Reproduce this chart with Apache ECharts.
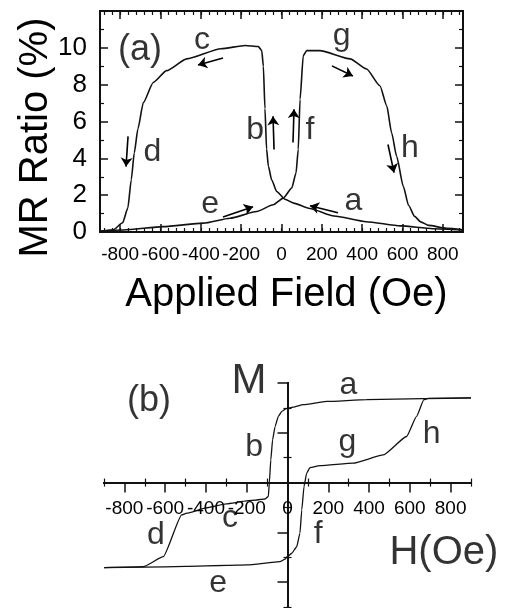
<!DOCTYPE html>
<html><head><meta charset="utf-8">
<script src="https://cdn.jsdelivr.net/npm/echarts@6/dist/echarts.min.js"></script>
<style>html,body{margin:0;padding:0;background:#fff}#c{width:511px;height:608px}</style>
</head><body><div id="c"></div>
<script>
const FONT = '"Liberation Sans", Arial, Helvetica, sans-serif';

// ---------- Panel (a): MR ratio vs applied field ----------
// branch a -> b -> c -> d (field sweeping down)
const fieldA1 = [900, 750, 590, 420, 260, 140, 60, 17, -24, -49, -65, -74, -82, -90, -98, -115, -180, -300, -470, -570, -636, -685, -712, -730, -745, -762, -788, -834, -900];
const mrA1    = [0.1, 0.18, 0.33, 0.56, 0.87, 1.28, 1.57, 1.78, 2.2, 2.84, 3.57, 4.5, 6.7, 9.0, 9.85, 10.07, 10.13, 9.95, 9.4, 8.76, 8.12, 7.03, 5.6, 4.3, 2.84, 1.3, 0.5, 0.12, 0.03];
// branch e -> f -> g -> h (field sweeping up)
const fieldA2 = [-900, -784, -586, -388, -255, -123, -41, 9, 51, 72, 83, 92, 108, 125, 190, 340, 422, 488, 522, 546, 571, 604, 630, 660, 690, 730, 819, 900];
const mrA2    = [0.05, 0.11, 0.29, 0.48, 0.75, 1.11, 1.48, 1.84, 2.39, 3.2, 4.48, 7.2, 9.58, 9.85, 9.85, 9.4, 8.85, 7.94, 6.85, 5.39, 4.11, 2.48, 1.45, 0.85, 0.55, 0.36, 0.2, 0.12];
// arrows (start field, start MR, end field, end MR)
const arrowA_h0 = [-290, -761, -37, 57, 250, 528, -290, 280];
const arrowA_m0 = [9.45, 5.19, 4.48, 4.86, 9.02, 4.75, 0.82, 1.04];
const arrowA_h1 = [-414, -771, -42, 62, 354, 558, -141, 141];
const arrowA_m1 = [9.07, 3.55, 6.28, 6.67, 8.47, 3.22, 1.37, 1.42];
// letters
const lettersA  = ['c', 'g', 'b', 'f', 'd', 'h', 'e', 'a'];
const letterAH  = [-394, 298, -131, 141, -640, 637, -354, 356];
const letterAM  = [10.44, 10.62, 5.52, 5.52, 4.36, 4.54, 1.5, 1.7];
const panelLabelA = ['(a)', -702, 9.87];
const xTickLabelsA = [-800, -600, -400, -200, 0, 200, 400, 600, 800];

// ---------- Panel (b): M vs H ----------
const fieldB1 = [900, 666, 388, 192, 77, 28, -7, -28, -45, -61, -73, -82, -89, -94, -110, -151, -200, -300, -400, -494, -519, -609, -707, -900];
const magB1   = [3.40, 3.37, 3.33, 3.26, 3.13, 3.03, 2.97, 2.86, 2.66, 2.25, 1.72, 0.91, 0, -0.56, -0.66, -0.7, -0.74, -0.86, -1.02, -1.23, -1.3, -2.98, -3.38, -3.42];
const fieldB2 = [-900, -700, -500, -300, -200, -37, -12, -1, 21, 45, 61, 70, 81, 94, 110, 159, 323, 470, 584, 633, 669, 690, 900];
const magB2   = [-3.42, -3.40, -3.37, -3.33, -3.31, -3.18, -3.08, -2.98, -2.84, -2.58, -2.04, -1.1, -0.16, 0.38, 0.6, 0.68, 0.78, 1.11, 1.85, 2.66, 3.33, 3.38, 3.40];
const lettersB = ['a', 'b', 'g', 'h', 'c', 'd', 'f', 'e'];
const letterBH = [299, -164, 294, 707, -282, -645, 150, -340];
const letterBM = [3.92, 1.42, 1.61, 1.96, -1.45, -2.13, -2.06, -4.03];
const panelLabelB = ['(b)', -679, 3.27];
const axisNameM = ['M', -189, 4.05];
const axisNameH = ['H(Oe)', 767, -2.82];
const xTickLabelsB = [-800, -600, -400, -200, 0, 200, 400, 600, 800];
const xMinorTicksB = [-900, -700, -500, -300, -100, 100, 300, 500, 700, 900];
const yMajorTicksB = [-4, -2, 2, 4];
const yMinorTicksB = [-5, -3, -1, 1, 3];

// minor ticks for panel (a) x axis, every 40 Oe
const xMinorTicksA = [];
for (let v = -880; v <= 880; v += 40) xMinorTicksA.push(v);

const zip = (a, b) => a.map((v, i) => [v, b[i]]);
const BLACK = '#111';

const xb = (extra) => Object.assign({
  type: 'value', gridIndex: 1, min: -900, max: 900,
  axisLine: { show: true, onZero: true, onZeroAxisIndex: 0, lineStyle: { color: BLACK, width: 2 } },
  axisLabel: { show: false }, splitLine: { show: false }
}, extra);
const yb = (extra) => Object.assign({
  type: 'value', gridIndex: 1, min: -5, max: 4,
  axisLine: { show: true, onZero: true, onZeroAxisIndex: 0, lineStyle: { color: BLACK, width: 2 } },
  axisLabel: { show: false }, splitLine: { show: false }
}, extra);
const xa = (extra) => Object.assign({
  type: 'value', gridIndex: 0, min: -900, max: 900,
  axisLine: { show: true, onZero: false, lineStyle: { color: BLACK, width: 2 } },
  axisLabel: { show: false }, splitLine: { show: false }
}, extra);
const ya = (extra) => Object.assign({
  type: 'value', gridIndex: 0, min: 0, max: 12, interval: 2,
  axisLine: { show: true, onZero: false, lineStyle: { color: BLACK, width: 2 } },
  axisTick: { show: true, inside: true, length: 8, lineStyle: { color: BLACK, width: 1.5 } },
  minorTick: { show: true, splitNumber: 2, length: 4, lineStyle: { color: BLACK, width: 1.2 } },
  axisLabel: { show: false }, splitLine: { show: false }, minorSplitLine: { show: false }
}, extra);
const tk = (vals, inside, len, w) => ({ show: true, customValues: vals, inside: inside, length: len, lineStyle: { color: BLACK, width: w } });

const letterSeries = (xi, yi, items, size) => ({
  type: 'scatter', xAxisIndex: xi, yAxisIndex: yi, silent: true, symbolSize: 0, clip: false,
  itemStyle: { color: 'rgba(0,0,0,0)' },
  label: { show: true, position: 'inside', formatter: p => p.value[2], color: '#000', fontFamily: FONT, fontSize: size },
  data: items, z: 5
});

const chart = echarts.init(document.getElementById('c'), null, { renderer: 'canvas' });
chart.setOption({
  animation: false,
  backgroundColor: '#fff',
  grid: [
    { left: 100, top: 11, width: 363, height: 221, outerBoundsMode: 'none', containLabel: false },
    { left: 104, top: 383, width: 367, height: 224, outerBoundsMode: 'none', containLabel: false },
    // helper grid: upper half of panel (b), its bottom edge is the M = 0 line; carries the H tick labels
    { left: 104, top: 383, width: 367, height: 224 * 4 / 9, outerBoundsMode: 'none', containLabel: false }
  ],
  xAxis: [
    xb({ axisTick: tk(xTickLabelsB, false, 10, 1.5) }),
    xb({ axisTick: tk(xTickLabelsB, true, 10, 1.5) }),
    xb({ axisTick: tk(xMinorTicksB, false, 4, 1.2) }),
    xb({ axisTick: tk(xMinorTicksB, true, 4, 1.2) }),
    xa({ position: 'bottom', axisTick: tk(xTickLabelsA, true, 8, 1.5),
         axisLabel: { show: true, customValues: xTickLabelsA, margin: 13, color: '#000', fontFamily: FONT, fontSize: 19 } }),
    xa({ position: 'bottom', axisTick: tk(xMinorTicksA, true, 4, 1.2) }),
    xa({ position: 'top', axisTick: tk(xTickLabelsA, true, 8, 1.5) }),
    xa({ position: 'top', axisTick: tk(xMinorTicksA, true, 4, 1.2) }),
    { type: 'value', gridIndex: 2, min: -900, max: 900, position: 'bottom',
      axisLine: { show: false, onZero: false }, axisTick: { show: false }, splitLine: { show: false },
      axisLabel: { show: true, customValues: xTickLabelsB, margin: 17, color: '#000', fontFamily: FONT, fontSize: 19 } }
  ],
  yAxis: [
    yb({ axisTick: tk(yMajorTicksB.concat([4]), false, 10, 1.5) }),
    yb({ axisTick: tk(yMajorTicksB, true, 10, 1.5) }),
    yb({ axisTick: tk(yMinorTicksB, false, 4, 1.2) }),
    yb({ axisTick: tk(yMinorTicksB, true, 4, 1.2) }),
    ya({ position: 'left',
         axisLabel: { show: true, margin: 13, color: '#000', fontFamily: FONT, fontSize: 26,
                      formatter: v => (v === 12 ? '' : String(v)) } }),
    ya({ position: 'right' }),
    { type: 'value', gridIndex: 2, min: 0, max: 4, show: false }
  ],
  graphic: [
    { type: 'text', x: 36, y: 137.5, rotation: Math.PI / 2,
      style: { text: 'MR Ratio (%)', align: 'center', verticalAlign: 'middle', fill: '#000', font: '40px ' + FONT } },
    { type: 'text', x: 286.5, y: 294.5,
      style: { text: 'Applied Field (Oe)', align: 'center', verticalAlign: 'middle', fill: '#000', font: '40px ' + FONT } }
  ],
  series: [
    { type: 'line', name: 'abcd', xAxisIndex: 4, yAxisIndex: 4, data: zip(fieldA1, mrA1), showSymbol: false,
      smooth: 0.2, smoothMonotone: 'x', lineStyle: { color: BLACK, width: 1.6 }, silent: true },
    { type: 'line', name: 'efgh', xAxisIndex: 4, yAxisIndex: 4, data: zip(fieldA2, mrA2), showSymbol: false,
      smooth: 0.2, smoothMonotone: 'x', lineStyle: { color: BLACK, width: 1.6 }, silent: true },
    { type: 'lines', coordinateSystem: 'cartesian2d', xAxisIndex: 4, yAxisIndex: 4, silent: true,
      symbol: ['none', 'arrow'], symbolSize: 9,
      lineStyle: { color: '#000', width: 1.6, opacity: 1 },
      data: arrowA_h0.map((h, i) => ({ coords: [[h, arrowA_m0[i]], [arrowA_h1[i], arrowA_m1[i]]] })) },
    letterSeries(4, 4, lettersA.map((t, i) => [letterAH[i], letterAM[i], t]), 32),
    letterSeries(4, 4, [[panelLabelA[1], panelLabelA[2], panelLabelA[0]]], 36),

    { type: 'line', name: 'B abcd', xAxisIndex: 0, yAxisIndex: 0, data: zip(fieldB1, magB1), showSymbol: false,
      smooth: 0.15, smoothMonotone: 'x', lineStyle: { color: BLACK, width: 1.3 }, silent: true },
    { type: 'line', name: 'B efgh', xAxisIndex: 0, yAxisIndex: 0, data: zip(fieldB2, magB2), showSymbol: false,
      smooth: 0.15, smoothMonotone: 'x', lineStyle: { color: BLACK, width: 1.3 }, silent: true },
    letterSeries(0, 0, lettersB.map((t, i) => [letterBH[i], letterBM[i], t]), 32),
    letterSeries(0, 0, [[panelLabelB[1], panelLabelB[2], panelLabelB[0]]], 36),
    letterSeries(0, 0, [[axisNameM[1], axisNameM[2], axisNameM[0]]], 42),
    letterSeries(0, 0, [[axisNameH[1], axisNameH[2], axisNameH[0]]], 40)
  ]
});
</script></body></html>
